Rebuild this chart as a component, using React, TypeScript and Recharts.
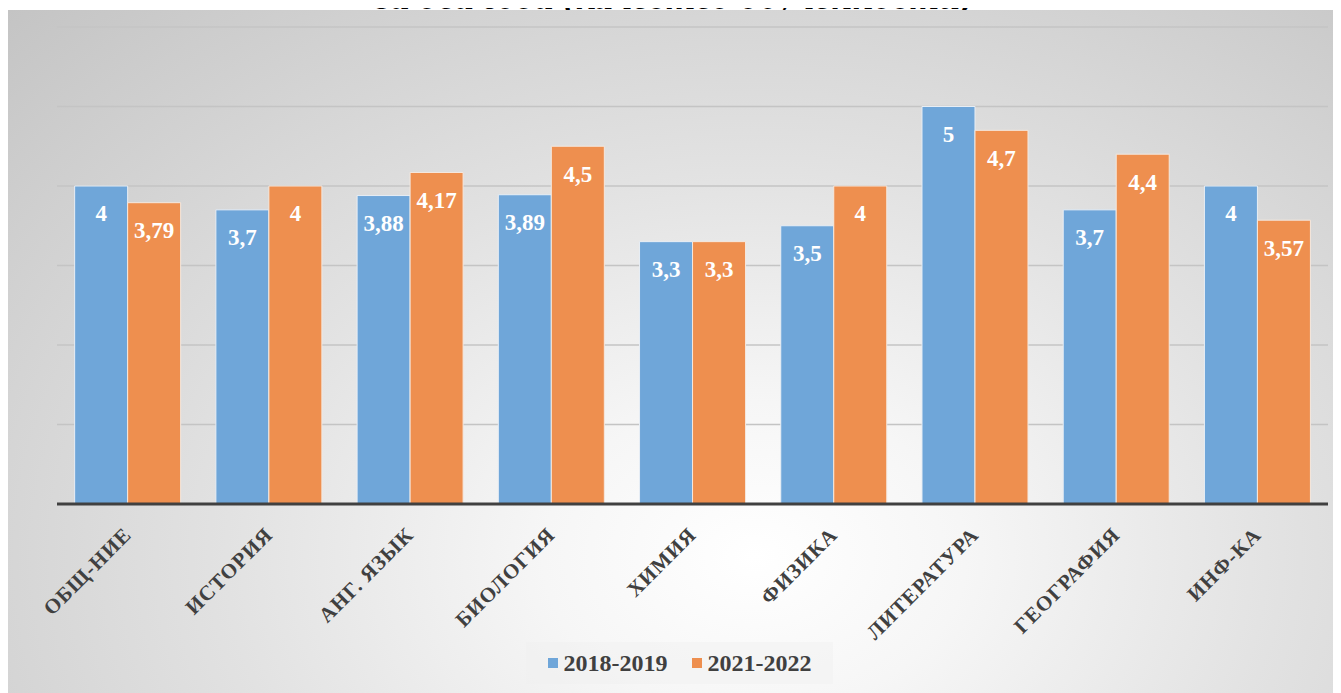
import React from "react";
import { BarChart, Bar, XAxis, YAxis, CartesianGrid, LabelList, Legend } from "recharts";

const categories = ["ОБЩ-НИЕ", "ИСТОРИЯ", "АНГ. ЯЗЫК", "БИОЛОГИЯ", "ХИМИЯ", "ФИЗИКА", "ЛИТЕРАТУРА", "ГЕОГРАФИЯ", "ИНФ-КА"];
const series2018 = [4, 3.7, 3.88, 3.89, 3.3, 3.5, 5, 3.7, 4];
const series2021 = [3.79, 4, 4.17, 4.5, 3.3, 4, 4.7, 4.4, 3.57];
const yTicks = [0, 1, 2, 3, 4, 5, 6];
const seriesNames = ["2018-2019", "2021-2022"];
const title = "за два года (качество обученности)";

const BLUE = "#6fa6d9";
const ORANGE = "#ee8f4f";
const SERIF = "Liberation Serif, Tinos, Times New Roman, DejaVu Serif, serif";

const data = categories.map((c, i) => ({ name: c, a: series2018[i], b: series2021[i] }));

const fmt = (v: any) => String(v).replace(".", ",");

const Tick = (props: any) => {
  const { x, y, payload } = props;
  return (
    <g transform={`translate(${x + 5},${y + 24})`}>
      <text
        transform="rotate(-45)"
        textAnchor="end"
        fill="#404040"
        style={{ fontFamily: SERIF, fontWeight: "bold", fontSize: 21, letterSpacing: 1 }}
      >
        {payload.value}
      </text>
    </g>
  );
};

const LegendContent = () => (
  <div
    style={{
      width: 307,
      height: 42,
      background: "rgba(240,240,240,0.45)",
      display: "flex",
      alignItems: "center",
      justifyContent: "center",
      fontFamily: SERIF,
      fontWeight: "bold",
      fontSize: 24,
      color: "#404040",
    }}
  >
    {seriesNames.map((n, i) => (
      <div key={n} style={{ display: "flex", alignItems: "center", marginRight: i === 0 ? 24 : 0 }}>
        <div style={{ width: 10, height: 10, background: i === 0 ? BLUE : ORANGE, marginRight: 6 }} />
        <span>{n}</span>
      </div>
    ))}
  </div>
);

const labelStyle = { fontFamily: SERIF, fontWeight: "bold", fontSize: 23 } as React.CSSProperties;

export default function App() {
  return (
    <div style={{ position: "relative", width: 1333, height: 683, marginTop: 2, fontFamily: SERIF }}>
      <div
        style={{
          position: "absolute",
          top: -33,
          left: 0,
          width: 1333,
          textAlign: "center",
          fontFamily: SERIF,
          fontWeight: "bold",
          fontStyle: "italic",
          fontSize: 38,
          lineHeight: "38px",
          color: "#000",
          whiteSpace: "nowrap",
        }}
      >
        {title}
      </div>
      <div
        style={{
          position: "absolute",
          left: 0,
          top: 0,
          width: 1333,
          height: 683,
          background:
            "radial-gradient(ellipse farthest-corner at 56% 80%, #ffffff 0%, #f6f6f6 20%, #e2e2e2 50%, #c4c4c4 100%)",
        }}
      >
        <BarChart
          width={1333}
          height={683}
          data={data}
          margin={{ top: 17, right: 13, left: 49, bottom: 0 }}
          barCategoryGap="12.5%"
          barGap={0}
          style={{ fontFamily: SERIF }}
        >
          <CartesianGrid vertical={false} stroke="#c4c4c4" strokeWidth={1.5} />
          <YAxis hide domain={[0, 6]} ticks={yTicks} />
          <XAxis
            dataKey="name"
            height={189}
            interval={0}
            tickLine={false}
            axisLine={{ stroke: "#404040", strokeWidth: 3 }}
            tick={<Tick />}
          />
          <Legend
            layout="horizontal"
            verticalAlign="middle"
            align="center"
            content={<LegendContent />}
            wrapperStyle={{ top: 632, left: 518, width: 307, height: 42 }}
          />
          <Bar dataKey="a" name={seriesNames[0]} fill={BLUE} stroke="#e8eef5" strokeWidth={1} isAnimationActive={false}>
            <LabelList
              dataKey="a"
              position="insideTop"
              offset={19}
              formatter={fmt}
              fill="#ffffff"
              style={labelStyle}
            />
          </Bar>
          <Bar dataKey="b" name={seriesNames[1]} fill={ORANGE} stroke="#f5e8de" strokeWidth={1} isAnimationActive={false}>
            <LabelList
              dataKey="b"
              position="insideTop"
              offset={19}
              formatter={fmt}
              fill="#ffffff"
              style={labelStyle}
            />
          </Bar>
        </BarChart>
      </div>
    </div>
  );
}
